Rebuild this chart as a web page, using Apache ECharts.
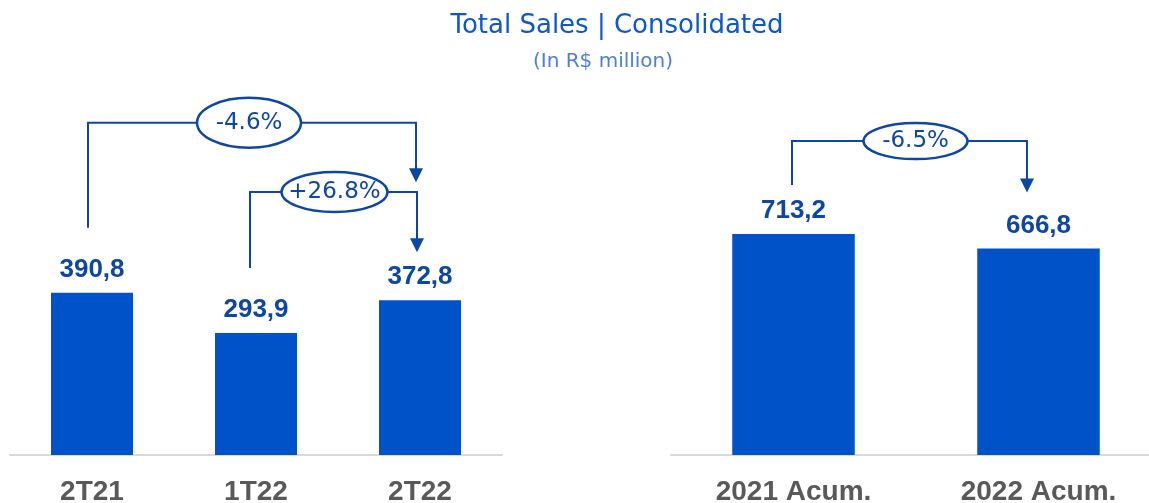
<!DOCTYPE html>
<html>
<head>
<meta charset="utf-8">
<script src="https://cdn.jsdelivr.net/npm/echarts@6/dist/echarts.min.js"></script>
<style>
  html, body { margin: 0; padding: 0; background: #ffffff; }
  #chart { width: 1149px; height: 503px; }
</style>
</head>
<body>
<div id="chart"></div>
<script>
// data
var quarterCats   = ['2T21', '1T22', '2T22'];
var quarterValues = [390.8, 293.9, 372.8];
var yearCats      = ['2021 Acum.', '2022 Acum.'];
var yearValues    = [713.2, 666.8];
var changeLabels  = ['-4.6%', '+26.8%', '-6.5%'];

var barColor   = '#0052c9';
var darkBlue   = '#0d47a6';
var axisGray   = '#d9d9d9';
var labelGray  = '#595959';

var myChart = echarts.init(document.getElementById('chart'));

function fmt(p) {
	return p.value.toFixed(1).replace('.', ',');
}

function makeSeries(idx, values) {
	return {
		type : 'bar',
		xAxisIndex : idx,
		yAxisIndex : idx,
		barWidth : '50%',
		data : values,
		itemStyle : { color : barColor },
		label : {
			show : true,
			position : 'top',
			distance : 10,
			formatter : fmt,
			color : darkBlue,
			fontFamily : 'Liberation Sans',
			fontWeight : 'bold',
			fontSize : 26
		},
		silent : true
	};
}

function makeXAxis(idx, cats) {
	return {
		type : 'category',
		gridIndex : idx,
		data : cats,
		axisLine : { lineStyle : { color : axisGray, width : 2 } },
		axisTick : { show : false },
		axisLabel : {
			margin : 23,
			color : labelGray,
			fontFamily : 'Liberation Sans',
			fontWeight : 'bold',
			fontSize : 28
		}
	};
}

var chartOption = {
	animation : false,
	title : [
		{
			text : 'Total Sales | Consolidated',
			left : 612, top : 8, textAlign : 'center',
			textStyle : { color : '#0b57d0', fontFamily : 'DejaVu Sans', fontWeight : 'normal', fontSize : 26 }
		},
		{
			text : '(In R$ million)',
			left : 598, top : 47, textAlign : 'center',
			textStyle : { color : '#4d80d6', fontFamily : 'DejaVu Sans', fontWeight : 'normal', fontSize : 20 }
		}
	],
	grid : [
		{ left : 10,  width : 492, top : 40, bottom : 48, outerBoundsMode : 'none' },
		{ left : 671, width : 490, top : 40, bottom : 48, outerBoundsMode : 'none' }
	],
	xAxis : [ makeXAxis(0, quarterCats), makeXAxis(1, yearCats) ],
	yAxis : [
		{ type : 'value', gridIndex : 0, min : 0, max : 1000, show : false },
		{ type : 'value', gridIndex : 1, min : 0, max : 1340, show : false }
	],
	series : [ makeSeries(0, quarterValues), makeSeries(1, yearValues) ]
};
myChart.setOption(chartOption);

// brackets between bars: offsets in px relative to bar tops
var brackets = [
	{ grid : 0, from : 0, to : 2, values : quarterValues, text : changeLabels[0],
	  dxFrom : -4, dxTo : -4, startGap : 65, rise : 170, endGap : 118, rx : 52, ry : 25, cxShift : -3 },
	{ grid : 0, from : 1, to : 2, values : quarterValues, text : changeLabels[1],
	  dxFrom : -6, dxTo : -3, startGap : 65, rise : 141, endGap : 48, rx : 53, ry : 20, cxShift : 1 },
	{ grid : 1, from : 0, to : 1, values : yearValues, text : changeLabels[2],
	  dxFrom : -2, dxTo : -12, startGap : 49, rise : 93, endGap : 56, rx : 52, ry : 18, cxShift : 6 }
];

function buildBracket(b) {
	var p0 = myChart.convertToPixel({ gridIndex : b.grid }, [b.from, b.values[b.from]]);
	var p1 = myChart.convertToPixel({ gridIndex : b.grid }, [b.to, b.values[b.to]]);
	var x0 = Math.round(p0[0] + b.dxFrom);
	var x1 = Math.round(p1[0] + b.dxTo);
	var yStart = p0[1] - b.startGap;
	var yLevel = p0[1] - b.rise;
	var yTip = p1[1] - b.endGap;
	var cx = (x0 + x1) / 2 + b.cxShift;
	return [
		{
			type : 'polyline', silent : true,
			shape : { points : [[x0, yStart], [x0, yLevel], [x1, yLevel], [x1, yTip - 12]] },
			style : { stroke : darkBlue, lineWidth : 2, fill : null }
		},
		{
			type : 'polygon', silent : true,
			shape : { points : [[x1 - 7, yTip - 14], [x1 + 7, yTip - 14], [x1, yTip]] },
			style : { fill : darkBlue }
		},
		{
			type : 'ellipse', silent : true,
			shape : { cx : cx, cy : yLevel, rx : b.rx, ry : b.ry },
			style : { fill : '#ffffff', stroke : darkBlue, lineWidth : 2.5 }
		},
		{
			type : 'text', silent : true,
			x : cx, y : yLevel,
			style : {
				text : b.text, fill : darkBlue,
				font : '23px "DejaVu Sans"',
				align : 'center', verticalAlign : 'middle'
			}
		}
	];
}

var elements = [];
for (var i = 0; i < brackets.length; i++) {
	elements = elements.concat(buildBracket(brackets[i]));
}
myChart.setOption({ graphic : { elements : elements } });
</script>
</body>
</html>
